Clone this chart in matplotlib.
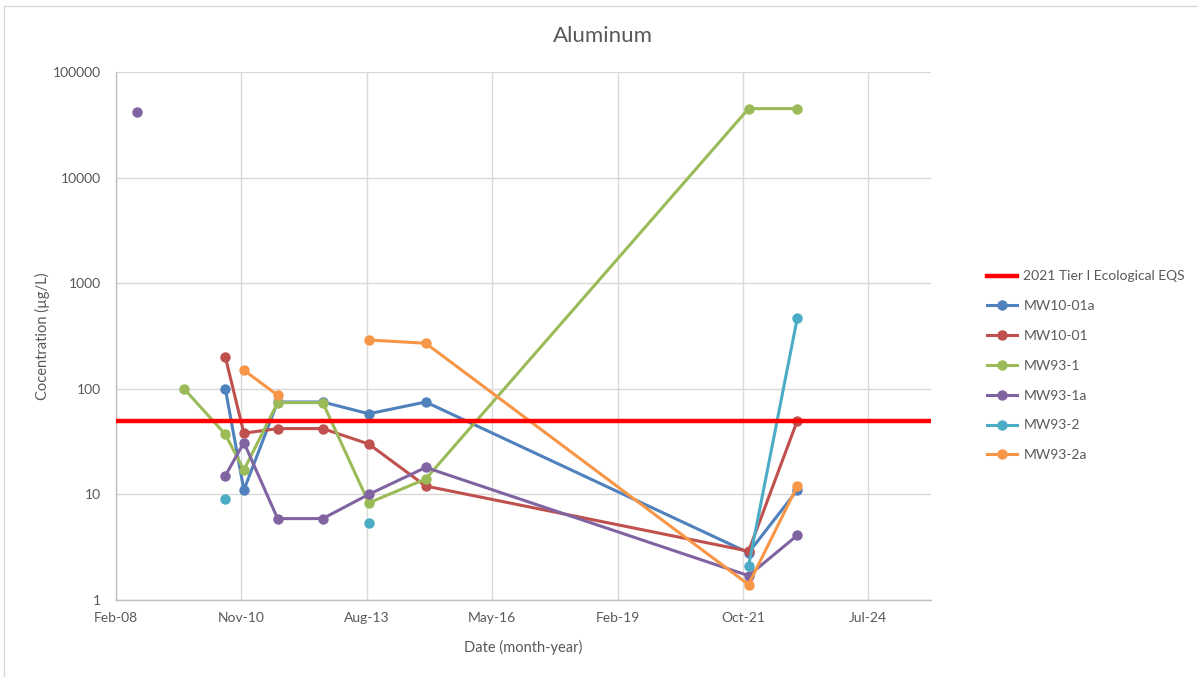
import datetime as dt
import numpy as np
import matplotlib
matplotlib.use("Agg")
import matplotlib.pyplot as plt
import matplotlib.dates as mdates
from matplotlib.ticker import FixedLocator, FuncFormatter, NullLocator
from matplotlib.patches import Rectangle

plt.rcParams['font.family'] = ['Lato', 'DejaVu Sans']

# Sampling dates
dates = [
    dt.date(2008, 8, 10),
    dt.date(2009, 8, 18),
    dt.date(2010, 7, 13),
    dt.date(2010, 12, 8),
    dt.date(2011, 9, 3),
    dt.date(2012, 8, 28),
    dt.date(2013, 8, 30),
    dt.date(2014, 11, 27),
    dt.date(2021, 12, 15),
    dt.date(2023, 1, 8),
]

# Aluminum concentrations (µg/L); None = not sampled
mw10_01a = [None, None, 100, 11, 75, 75, 58, 75, 2.8, 11]
mw10_01 = [None, None, 200, 38, 42, 42, 30, 12, 2.9, 50]
mw93_1 = [None, 100, 37, 17, 74, 74, 8.3, 14, 45000, 45000]
mw93_1a = [42000, None, 15, 31, 5.9, 5.9, 10, 18, 1.7, 4.1]
mw93_2 = [None, None, 9, None, None, None, 5.4, None, 2.1, 470]
mw93_2a = [None, None, None, 150, 87, None, 290, 270, 1.4, 12]

eqs_value = 50
eqs_label = "2021 Tier I Ecological EQS"

series = [
    ("MW10-01a", mw10_01a, "#4F81BD"),
    ("MW10-01", mw10_01, "#C0504D"),
    ("MW93-1", mw93_1, "#9BBB59"),
    ("MW93-1a", mw93_1a, "#8064A2"),
    ("MW93-2", mw93_2, "#4BACC6"),
    ("MW93-2a", mw93_2a, "#F79646"),
]

y_ticks = [1, 10, 100, 1000, 10000, 100000]

W, H = 1198, 677
fig = plt.figure(figsize=(W / 100, H / 100), dpi=100)
ax = fig.add_axes([116 / W, 1 - 600 / H, (931 - 116) / W, 528 / H])

# chart-area border
fig.patches.append(Rectangle((4 / W, -0.01), 1.0, 1 - 6 / H + 0.01,
                             transform=fig.transFigure, fill=False,
                             edgecolor="#D9D9D9", lw=1.0))

x_num = mdates.date2num(dates)
grid_c = "#D9D9D9"
text_c = "#595959"

eqs_line = ax.axhline(eqs_value, color="#FF0000", lw=3.2, zorder=5,
                      label=eqs_label)

handles = [eqs_line]
for name, vals, col in series:
    y = np.array([np.nan if v is None else v for v in vals], dtype=float)
    h, = ax.plot(x_num, y, color=col, lw=2.2, marker="o", ms=7.5,
                 markeredgewidth=0, label=name, zorder=3)
    handles.append(h)

ax.set_yscale("log")
ax.set_ylim(1, 100000)
ax.yaxis.set_major_locator(FixedLocator(y_ticks))
ax.yaxis.set_minor_locator(NullLocator())
ax.yaxis.set_major_formatter(FuncFormatter(lambda v, p: f"{v:g}" if v < 1e5 else "100000"))

x0 = dt.date(2008, 2, 22)
x_ticks = [x0 + dt.timedelta(days=1000 * i) for i in range(7)]
ax.set_xlim(mdates.date2num(x0), mdates.date2num(x0 + dt.timedelta(days=6500)))
ax.xaxis.set_major_locator(FixedLocator(mdates.date2num(x_ticks)))
ax.xaxis.set_major_formatter(mdates.DateFormatter("%b-%y"))

ax.grid(True, which="major", color=grid_c, lw=1.0, zorder=0)
ax.set_axisbelow(True)
for s in ["top", "right"]:
    ax.spines[s].set_visible(False)
for s in ["left", "bottom"]:
    ax.spines[s].set_color("#BFBFBF")
    ax.spines[s].set_linewidth(1.0)
ax.tick_params(length=0, labelsize=10, colors=text_c)
ax.tick_params(axis="y", pad=11)
ax.tick_params(axis="x", pad=9)

ax.set_xlabel("Date (month-year)", fontsize=10.5, color=text_c, labelpad=11)
ax.set_ylabel("Cocentration (µg/L)", fontsize=10.5, color=text_c, labelpad=2)
fig.text(603 / W, 1 - 36 / H, "Aluminum", ha="center", va="center",
         fontsize=16, color=text_c)

leg = fig.legend(handles=handles, loc="upper left",
                 bbox_to_anchor=(974 / W, 1 - 258 / H), frameon=False,
                 fontsize=10, labelspacing=1.28, handlelength=2.2,
                 handletextpad=0.45, labelcolor=text_c)

fig.savefig("out.png", dpi=100, facecolor="white")
